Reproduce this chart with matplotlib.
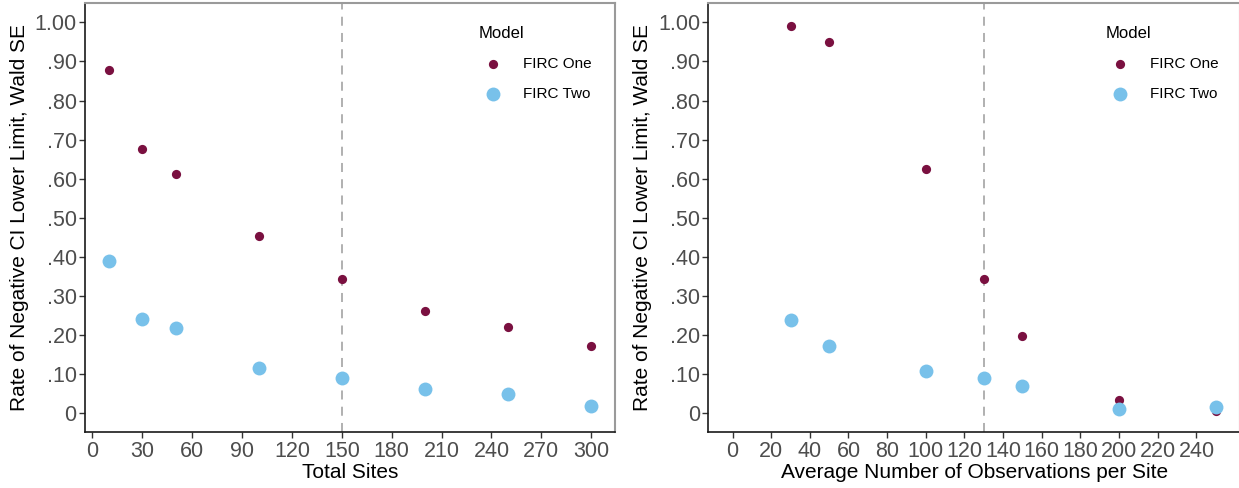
import matplotlib.pyplot as plt

plt.rcParams["font.family"] = ["Liberation Sans", "DejaVu Sans"]

# --------------------------------------------------------
# DATA
# --------------------------------------------------------
sites = [10, 30, 50, 100, 150, 200, 250, 300]
sites_one = [0.877, 0.677, 0.611, 0.452, 0.342, 0.260, 0.219, 0.170]
sites_two = [0.388, 0.240, 0.218, 0.116, 0.090, 0.060, 0.047, 0.018]

obs = [30, 50, 100, 130, 150, 200, 250]
obs_one = [0.991, 0.951, 0.625, 0.342, 0.196, 0.032, 0.004]
obs_two = [0.237, 0.170, 0.106, 0.090, 0.068, 0.010, 0.015]

y_ticks = [0, 0.1, 0.2, 0.3, 0.4, 0.5, 0.6, 0.7, 0.8, 0.9, 1.0]
y_labels = ["0", ".10", ".20", ".30", ".40", ".50", ".60", ".70", ".80", ".90", "1.00"]

COL_ONE = "#7A1040"
COL_TWO = "#78C1EA"
YLAB = "Rate of Negative CI Lower Limit, Wald SE"

# --------------------------------------------------------
# PLOT
# --------------------------------------------------------
fig = plt.figure(figsize=(12.39, 4.88), dpi=100)
ax1 = fig.add_axes([0.0686, 0.114, 0.428, 0.880])
ax2 = fig.add_axes([0.5717, 0.114, 0.4291, 0.880])


def style_panel(ax, x, one, two, vline, xlim, xticks, xlabel, leg_x):
    ax.axvline(vline, color="#AAAAAA", linestyle=(0, (5, 4)), linewidth=1.3, zorder=1)
    ax.scatter(x, one, s=44, color=COL_ONE, label="FIRC One", zorder=3, linewidths=0)
    ax.scatter(x, two, s=100, color=COL_TWO, label="FIRC Two", zorder=3, linewidths=0)
    ax.set_xlim(*xlim)
    ax.set_ylim(-0.05, 1.05)
    ax.set_xticks(xticks)
    ax.set_yticks(y_ticks)
    ax.set_yticklabels(y_labels)
    ax.tick_params(axis="both", labelsize=15.5, labelcolor="#4D4D4D", color="#333333",
                   length=4, width=1.0, direction="out", pad=2)
    ax.set_xlabel(xlabel, fontsize=15, labelpad=1)
    ax.set_ylabel(YLAB, fontsize=15, labelpad=4)
    for side in ["left", "bottom"]:
        ax.spines[side].set_color("#1A1A1A")
        ax.spines[side].set_linewidth(1.2)
    for side in ["top", "right"]:
        ax.spines[side].set_color("#9A9A9A")
        ax.spines[side].set_linewidth(1.5)
    leg = ax.legend(title="Model", loc="upper left", bbox_to_anchor=(leg_x, 0.96),
                    frameon=False, fontsize=11, title_fontsize=12,
                    handletextpad=0.9, labelspacing=1.05, borderaxespad=0)
    leg._legend_box.align = "left"


style_panel(ax1, sites, sites_one, sites_two, 150, (-4.5, 314.5),
            list(range(0, 301, 30)), "Total Sites", 0.73)
style_panel(ax2, obs, obs_one, obs_two, 130, (-12.5, 262.5),
            list(range(0, 241, 20)), "Average Number of Observations per Site", 0.735)

fig.savefig("out.png", dpi=100)
